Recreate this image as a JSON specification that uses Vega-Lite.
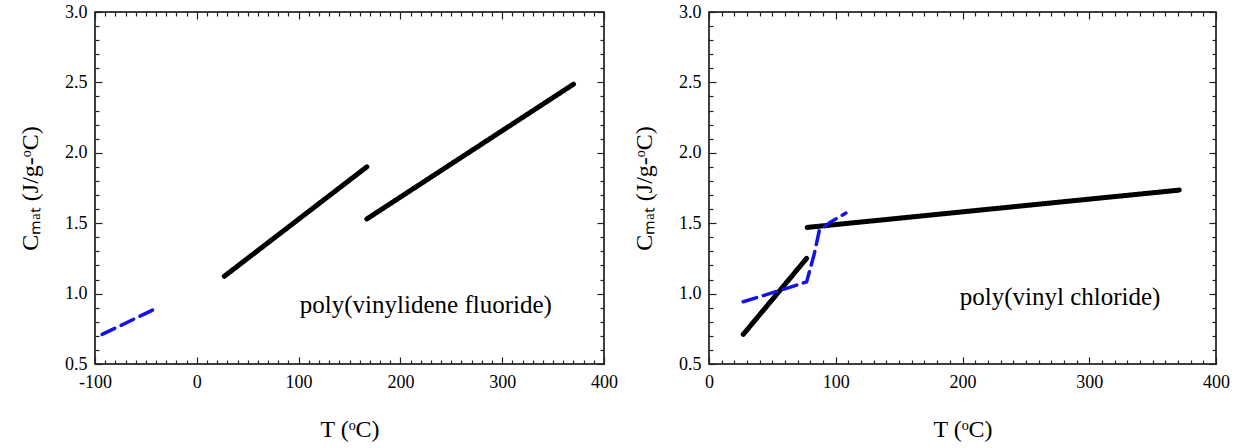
{
  "$schema": "https://vega.github.io/schema/vega-lite/v6.json",
  "background": "white",
  "padding": {"left": 17, "top": 2, "right": 5, "bottom": 5},
  "spacing": 12,
  "config": {
    "font": "'Liberation Serif', 'Times New Roman', serif",
    "view": {"stroke": "black", "strokeWidth": 1.5},
    "text": {"font": "'Liberation Serif', 'Times New Roman', serif"},
    "axis": {"grid": false, "domain": false, "labelFont": "'Liberation Serif', 'Times New Roman', serif", "titleFont": "'Liberation Serif', 'Times New Roman', serif", "labelColor": "black", "titleColor": "black", "tickColor": "#222", "tickWidth": 1.2, "labelFontSize": 18, "titleFontSize": 24, "titleFontWeight": "normal", "labelFlush": false}
  },
  "datasets": {
    "pvdf": [
      {"seg": "a", "series": "data", "T": -93, "C": 0.71},
      {"seg": "a", "series": "data", "T": -42, "C": 0.888},
      {"seg": "b", "series": "model", "T": 27, "C": 1.123},
      {"seg": "b", "series": "model", "T": 167, "C": 1.9},
      {"seg": "c", "series": "model", "T": 167, "C": 1.53},
      {"seg": "c", "series": "model", "T": 370, "C": 2.487}
    ],
    "pvc": [
      {"seg": "a", "series": "model", "T": 27, "C": 0.71},
      {"seg": "a", "series": "model", "T": 77, "C": 1.25},
      {"seg": "b", "series": "model", "T": 77.5, "C": 1.47},
      {"seg": "b", "series": "model", "T": 371, "C": 1.735},
      {"seg": "c", "series": "data", "T": 27, "C": 0.942},
      {"seg": "c", "series": "data", "T": 55, "C": 1.02},
      {"seg": "c", "series": "data", "T": 77, "C": 1.083},
      {"seg": "c", "series": "data", "T": 83, "C": 1.28},
      {"seg": "c", "series": "data", "T": 87, "C": 1.448},
      {"seg": "c", "series": "data", "T": 95.7, "C": 1.507},
      {"seg": "c", "series": "data", "T": 108, "C": 1.572}
    ],
    "lab1": [{"T": 225, "C": 0.92, "label": "poly(vinylidene fluoride)"}],
    "lab2": [{"T": 277, "C": 0.975, "label": "poly(vinyl chloride)"}]
  },
  "hconcat": [
    {
      "width": 509,
      "height": 352,
      "resolve": {"axis": {"x": "independent", "y": "independent"}},
      "layer": [
        {
          "data": {"name": "pvdf"},
          "mark": {"type": "line", "strokeCap": "round"},
          "encoding": {
            "x": {"field": "T", "type": "quantitative", "scale": {"domain": [-100, 400], "nice": false, "zero": false},
              "axis": {"orient": "bottom", "values": [-100, 0, 100, 200, 300, 400], "labelExpr": "datum.value + ''", "offset": -7, "tickSize": 7, "labelPadding": 9, "title": "T (ᵒC)", "titlePadding": 26}},
            "y": {"field": "C", "type": "quantitative", "scale": {"domain": [0.5, 3.0], "nice": false, "zero": false},
              "axis": {"orient": "left", "values": [0.5, 1.0, 1.5, 2.0, 2.5, 3.0], "format": ".1f", "offset": -7, "tickSize": 7, "labelPadding": 8, "title": "Cₘₐₜ  (J/g-ᵒC)", "titlePadding": 22}},
            "detail": {"field": "seg"},
            "color": {"field": "series", "type": "nominal", "scale": {"domain": ["model", "data"], "range": ["black", "#1414e6"]}, "legend": null},
            "strokeDash": {"field": "series", "type": "nominal", "scale": {"domain": ["model", "data"], "range": [[1, 0], [14, 7]]}, "legend": null},
            "strokeWidth": {"field": "series", "type": "nominal", "scale": {"domain": ["model", "data"], "range": [5, 3.5]}, "legend": null}
          }
        },
        {
          "data": {"name": "pvdf"},
          "mark": {"type": "point", "opacity": 0},
          "encoding": {
            "x": {"field": "T", "type": "quantitative", "axis": {"orient": "top", "values": [-100, 0, 100, 200, 300, 400], "offset": -7, "tickSize": 7, "labels": false, "title": null}},
            "y": {"field": "C", "type": "quantitative", "axis": {"orient": "right", "values": [0.5, 1.0, 1.5, 2.0, 2.5, 3.0], "offset": -7, "tickSize": 7, "labels": false, "title": null}}
          }
        },
        {
          "data": {"name": "pvdf"},
          "mark": {"type": "point", "opacity": 0},
          "encoding": {
            "x": {"field": "T", "type": "quantitative", "axis": {"orient": "bottom", "values": [-90, -80, -70, -60, -50, -40, -30, -20, -10, 10, 20, 30, 40, 50, 60, 70, 80, 90, 110, 120, 130, 140, 150, 160, 170, 180, 190, 210, 220, 230, 240, 250, 260, 270, 280, 290, 310, 320, 330, 340, 350, 360, 370, 380, 390], "offset": -4, "tickSize": 4, "labels": false, "title": null}},
            "y": {"field": "C", "type": "quantitative", "axis": {"orient": "left", "values": [0.6, 0.7, 0.8, 0.9, 1.1, 1.2, 1.3, 1.4, 1.6, 1.7, 1.8, 1.9, 2.1, 2.2, 2.3, 2.4, 2.6, 2.7, 2.8, 2.9], "offset": -4, "tickSize": 4, "labels": false, "title": null}}
          }
        },
        {
          "data": {"name": "pvdf"},
          "mark": {"type": "point", "opacity": 0},
          "encoding": {
            "x": {"field": "T", "type": "quantitative", "axis": {"orient": "top", "values": [-90, -80, -70, -60, -50, -40, -30, -20, -10, 10, 20, 30, 40, 50, 60, 70, 80, 90, 110, 120, 130, 140, 150, 160, 170, 180, 190, 210, 220, 230, 240, 250, 260, 270, 280, 290, 310, 320, 330, 340, 350, 360, 370, 380, 390], "offset": -4, "tickSize": 4, "labels": false, "title": null}},
            "y": {"field": "C", "type": "quantitative", "axis": {"orient": "right", "values": [0.6, 0.7, 0.8, 0.9, 1.1, 1.2, 1.3, 1.4, 1.6, 1.7, 1.8, 1.9, 2.1, 2.2, 2.3, 2.4, 2.6, 2.7, 2.8, 2.9], "offset": -4, "tickSize": 4, "labels": false, "title": null}}
          }
        },
        {
          "data": {"name": "lab1"},
          "mark": {"type": "text", "fontSize": 25, "color": "black", "align": "center", "baseline": "middle"},
          "encoding": {
            "x": {"field": "T", "type": "quantitative", "axis": null},
            "y": {"field": "C", "type": "quantitative", "axis": null},
            "text": {"field": "label"}
          }
        }
      ]
    },
    {
      "width": 507,
      "height": 352,
      "resolve": {"axis": {"x": "independent", "y": "independent"}},
      "layer": [
        {
          "data": {"name": "pvc"},
          "mark": {"type": "line", "strokeCap": "round"},
          "encoding": {
            "x": {"field": "T", "type": "quantitative", "scale": {"domain": [0, 400], "nice": false, "zero": false},
              "axis": {"orient": "bottom", "values": [0, 100, 200, 300, 400], "labelExpr": "datum.value + ''", "offset": -7, "tickSize": 7, "labelPadding": 9, "title": "T (ᵒC)", "titlePadding": 26}},
            "y": {"field": "C", "type": "quantitative", "scale": {"domain": [0.5, 3.0], "nice": false, "zero": false},
              "axis": {"orient": "left", "values": [0.5, 1.0, 1.5, 2.0, 2.5, 3.0], "format": ".1f", "offset": -7, "tickSize": 7, "labelPadding": 8, "title": "Cₘₐₜ  (J/g-ᵒC)", "titlePadding": 22}},
            "detail": {"field": "seg"},
            "color": {"field": "series", "type": "nominal", "scale": {"domain": ["model", "data"], "range": ["black", "#1414e6"]}, "legend": null},
            "strokeDash": {"field": "series", "type": "nominal", "scale": {"domain": ["model", "data"], "range": [[1, 0], [14, 7]]}, "legend": null},
            "strokeWidth": {"field": "series", "type": "nominal", "scale": {"domain": ["model", "data"], "range": [5, 3.5]}, "legend": null}
          }
        },
        {
          "data": {"name": "pvc"},
          "mark": {"type": "point", "opacity": 0},
          "encoding": {
            "x": {"field": "T", "type": "quantitative", "axis": {"orient": "top", "values": [0, 100, 200, 300, 400], "offset": -7, "tickSize": 7, "labels": false, "title": null}},
            "y": {"field": "C", "type": "quantitative", "axis": {"orient": "right", "values": [0.5, 1.0, 1.5, 2.0, 2.5, 3.0], "offset": -7, "tickSize": 7, "labels": false, "title": null}}
          }
        },
        {
          "data": {"name": "pvc"},
          "mark": {"type": "point", "opacity": 0},
          "encoding": {
            "x": {"field": "T", "type": "quantitative", "axis": {"orient": "bottom", "values": [10, 20, 30, 40, 50, 60, 70, 80, 90, 110, 120, 130, 140, 150, 160, 170, 180, 190, 210, 220, 230, 240, 250, 260, 270, 280, 290, 310, 320, 330, 340, 350, 360, 370, 380, 390], "offset": -4, "tickSize": 4, "labels": false, "title": null}},
            "y": {"field": "C", "type": "quantitative", "axis": {"orient": "left", "values": [0.6, 0.7, 0.8, 0.9, 1.1, 1.2, 1.3, 1.4, 1.6, 1.7, 1.8, 1.9, 2.1, 2.2, 2.3, 2.4, 2.6, 2.7, 2.8, 2.9], "offset": -4, "tickSize": 4, "labels": false, "title": null}}
          }
        },
        {
          "data": {"name": "pvc"},
          "mark": {"type": "point", "opacity": 0},
          "encoding": {
            "x": {"field": "T", "type": "quantitative", "axis": {"orient": "top", "values": [10, 20, 30, 40, 50, 60, 70, 80, 90, 110, 120, 130, 140, 150, 160, 170, 180, 190, 210, 220, 230, 240, 250, 260, 270, 280, 290, 310, 320, 330, 340, 350, 360, 370, 380, 390], "offset": -4, "tickSize": 4, "labels": false, "title": null}},
            "y": {"field": "C", "type": "quantitative", "axis": {"orient": "right", "values": [0.6, 0.7, 0.8, 0.9, 1.1, 1.2, 1.3, 1.4, 1.6, 1.7, 1.8, 1.9, 2.1, 2.2, 2.3, 2.4, 2.6, 2.7, 2.8, 2.9], "offset": -4, "tickSize": 4, "labels": false, "title": null}}
          }
        },
        {
          "data": {"name": "lab2"},
          "mark": {"type": "text", "fontSize": 25, "color": "black", "align": "center", "baseline": "middle"},
          "encoding": {
            "x": {"field": "T", "type": "quantitative", "axis": null},
            "y": {"field": "C", "type": "quantitative", "axis": null},
            "text": {"field": "label"}
          }
        }
      ]
    }
  ]
}
